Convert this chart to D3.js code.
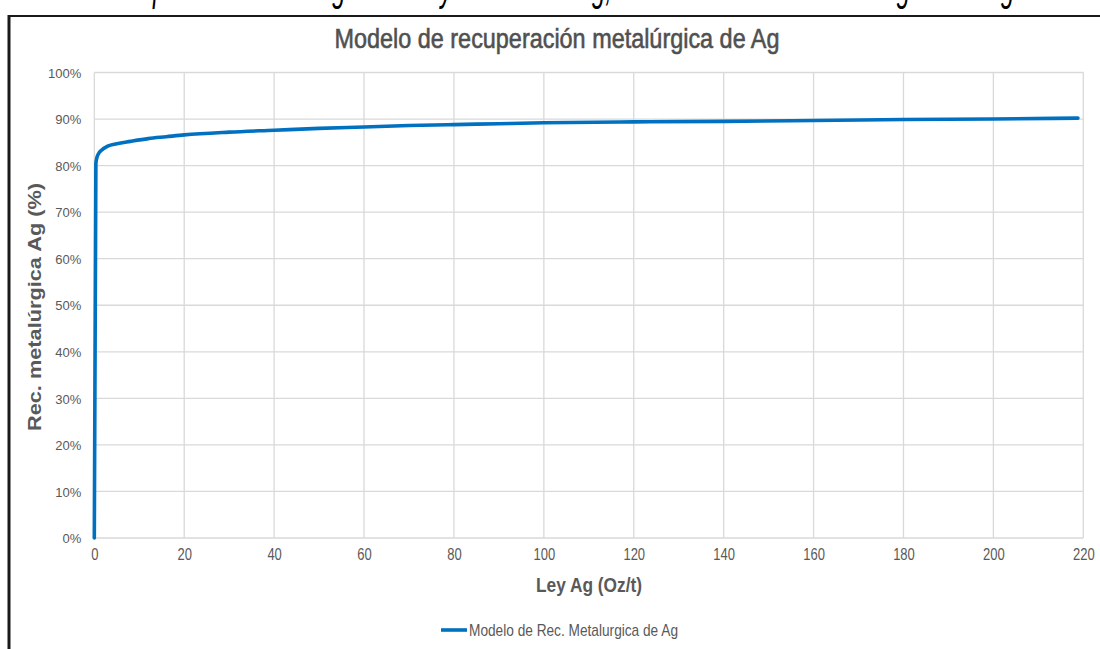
<!DOCTYPE html>
<html>
<head>
<meta charset="utf-8">
<script src="https://cdn.jsdelivr.net/npm/d3@7"></script>
<style>
  html, body { margin: 0; padding: 0; background: #fff; }
  svg { display: block; }
</style>
</head>
<body>
<svg id="chart" width="1100" height="649"></svg>
<script>
// ---- data ----
const leyAg = [0, 0.35, 0.6, 0.9, 1.6, 3, 5, 8, 12, 16, 20, 30, 40, 50, 60, 70, 80, 90, 100, 120, 140, 160, 180, 200, 218.8];
const recAg = [0, 0.805, 0.818, 0.825, 0.833, 0.842, 0.847, 0.852, 0.858, 0.862, 0.866, 0.872, 0.876, 0.880, 0.883, 0.886, 0.888, 0.890, 0.892, 0.894, 0.895, 0.897, 0.899, 0.900, 0.902];
const xTicks = [0, 20, 40, 60, 80, 100, 120, 140, 160, 180, 200, 220];
const yTicks = [0, 0.1, 0.2, 0.3, 0.4, 0.5, 0.6, 0.7, 0.8, 0.9, 1.0];
const titleText = "Modelo de recuperación metalúrgica de Ag";
const xTitleText = "Ley Ag (Oz/t)";
const yTitleText = "Rec. metalúrgica  Ag (%)";
const legendText = "Modelo de Rec. Metalurgica de Ag";
const captionText = "Curva de recuperación metalúrgica vs Ley de cabeza Ag, obtenida del modelo de regresión logarítmica";

const svg = d3.select("#chart");
const x = d3.scaleLinear().domain([0, 220]).range([94.3, 1083.3]);
const y = d3.scaleLinear().domain([0, 1]).range([538, 72.5]);

const gray = "#595959";
const grid = "#d9d9d9";
const blue = "#0070c0";
const sans = "'Liberation Sans', Arial, sans-serif";
const narrow = "'Liberation Sans Narrow', 'Arial Narrow', 'Liberation Sans', Arial, sans-serif";

// caption (cut by the top edge in the reference: only descenders visible)
svg.append("text")
  .attr("x", 2).attr("y", 0)
  .attr("font-family", sans).attr("font-style", "italic")
  .attr("font-size", 42).attr("fill", "#000")
  .attr("textLength", 1098).attr("lengthAdjust", "spacingAndGlyphs")
  .text(captionText);

// outer frame
svg.append("line").attr("x1", 8).attr("x2", 1100).attr("y1", 16).attr("y2", 16)
  .attr("stroke", "#1a1a1a").attr("stroke-width", 2);
svg.append("line").attr("x1", 9).attr("x2", 9).attr("y1", 15).attr("y2", 649)
  .attr("stroke", "#1a1a1a").attr("stroke-width", 3);

// gridlines
svg.append("g").selectAll("line").data(yTicks).join("line")
  .attr("x1", x(0)).attr("x2", x(220))
  .attr("y1", d => y(d)).attr("y2", d => y(d))
  .attr("stroke", grid).attr("stroke-width", 1.3);
svg.append("g").selectAll("line").data(xTicks).join("line")
  .attr("x1", d => x(d)).attr("x2", d => x(d))
  .attr("y1", y(0)).attr("y2", y(1))
  .attr("stroke", grid).attr("stroke-width", 1.3);

// axis tick labels (via d3 axes, domain & tick lines hidden)
const xAxis = svg.append("g").attr("transform", `translate(0,${y(0)})`)
  .call(d3.axisBottom(x).tickValues(xTicks).tickSize(0).tickPadding(12).tickFormat(d3.format("d")));
const yAxis = svg.append("g").attr("transform", `translate(${x(0)},0)`)
  .call(d3.axisLeft(y).tickValues(yTicks).tickSize(0).tickPadding(13).tickFormat(d3.format(".0%")));
[xAxis, yAxis].forEach(a => {
  a.select(".domain").remove();
  a.selectAll("text").attr("fill", gray).attr("font-family", sans).attr("font-size", 13);
});
xAxis.selectAll(".tick text").attr("transform", "scale(1,1.2)").attr("dy", "0.5em");
yAxis.selectAll(".tick text").attr("dy", "0.36em");

// line
const line = d3.line().x((d, i) => x(leyAg[i])).y(d => y(d)).curve(d3.curveMonotoneX);
svg.append("path").datum(recAg)
  .attr("d", line).attr("fill", "none")
  .attr("stroke", blue).attr("stroke-width", 3.6)
  .attr("stroke-linejoin", "round").attr("stroke-linecap", "round");

// title
svg.append("text").attr("transform", "translate(557,48) scale(1,1.2)")
  .attr("text-anchor", "middle")
  .attr("font-family", narrow).attr("font-size", 23).attr("fill", "#505050")
  .attr("stroke", "#505050").attr("stroke-width", 0.5)
  .attr("textLength", 445).attr("lengthAdjust", "spacingAndGlyphs")
  .text(titleText);

// x title
svg.append("text").attr("transform", "translate(589,592) scale(1,1.2)")
  .attr("text-anchor", "middle")
  .attr("font-family", narrow).attr("font-weight", "bold").attr("font-size", 17).attr("fill", gray)
  .attr("textLength", 106).attr("lengthAdjust", "spacingAndGlyphs")
  .text(xTitleText);

// y title
svg.append("text").attr("transform", "translate(41,307) rotate(-90)")
  .attr("text-anchor", "middle")
  .attr("font-family", sans).attr("font-weight", "bold").attr("font-size", 18).attr("fill", gray)
  .attr("textLength", 248).attr("lengthAdjust", "spacingAndGlyphs")
  .text(yTitleText);

// legend
svg.append("line").attr("x1", 441).attr("x2", 467).attr("y1", 630).attr("y2", 630)
  .attr("stroke", blue).attr("stroke-width", 3.6);
svg.append("text").attr("transform", "translate(469,636) scale(1,1.2)")
  .attr("font-family", narrow).attr("font-size", 14).attr("fill", gray)
  .attr("textLength", 209).attr("lengthAdjust", "spacingAndGlyphs")
  .text(legendText);
</script>
</body>
</html>
